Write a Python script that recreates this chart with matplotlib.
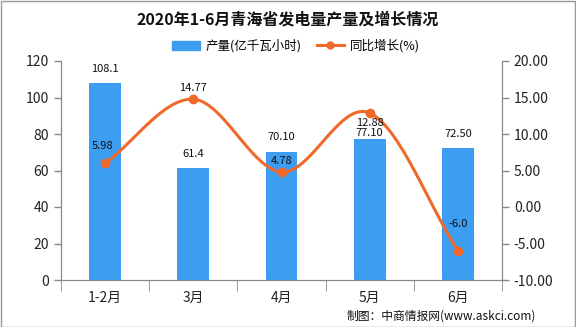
import matplotlib
matplotlib.use("Agg")
import matplotlib.pyplot as plt
import numpy as np
from matplotlib.patches import Rectangle, Patch
from matplotlib.lines import Line2D

plt.rcParams['font.family'] = ['Noto Sans CJK SC', 'DejaVu Sans']

categories = ["1-2月", "3月", "4月", "5月", "6月"]
output = [108.1, 61.4, 70.10, 77.10, 72.50]
output_labels = ["108.1", "61.4", "70.10", "77.10", "72.50"]
growth = [5.98, 14.77, 4.78, 12.88, -6.0]
growth_labels = ["5.98", "14.77", "4.78", "12.88", "-6.0"]
left_ticks = [0, 20, 40, 60, 80, 100, 120]
right_ticks = [-10, -5, 0, 5, 10, 15, 20]

bar_color = "#3d9df0"
line_color = "#f0692a"
axis_color = "#888888"

fig = plt.figure(figsize=(5.76, 3.27), dpi=100)
ax = fig.add_axes([61/576, 1-280/327, (502-61)/576, (280-61)/327])
ax2 = ax.twinx()

x = np.arange(len(categories))
ax.bar(x, output, width=0.36, color=bar_color, zorder=2)
ax.set_xlim(-0.5, len(categories)-0.5)
ax.set_ylim(0, 120)
ax.set_yticks(left_ticks)
ax.set_xticks(x)
ax.set_xticklabels(categories)
bar_off_px = [14, 14, 15, 6, 14]
for xi, v, lab, off in zip(x, output, output_labels, bar_off_px):
    ax.annotate(lab, (xi, v), xytext=(0, off*0.72), textcoords='offset points',
                ha='center', va='center', fontsize=8, color='#111111', zorder=5)

# smooth curve through the points (Catmull-Rom, drawing only)
def catmull(xs, ys, n=30):
    xs = np.asarray(xs, float); ys = np.asarray(ys, float)
    px = np.concatenate([[2*xs[0]-xs[1]], xs, [2*xs[-1]-xs[-2]]])
    py = np.concatenate([[2*ys[0]-ys[1]], ys, [2*ys[-1]-ys[-2]]])
    outx, outy = [], []
    for i in range(1, len(px)-2):
        t = np.linspace(0, 1, n)
        for arr, out in ((px, outx), (py, outy)):
            p0, p1, p2, p3 = arr[i-1], arr[i], arr[i+1], arr[i+2]
            out.extend(0.5*((2*p1) + (-p0+p2)*t + (2*p0-5*p1+4*p2-p3)*t**2 + (-p0+3*p1-3*p2+p3)*t**3))
    return np.array(outx), np.array(outy)

sx, sy = catmull(x, growth)
ax2.plot(sx, sy, color=line_color, lw=2.2, zorder=3)
ax2.plot(x, growth, 'o', color=line_color, ms=6, zorder=4)
ax2.set_ylim(-10, 20)
ax2.set_yticks(right_ticks)
ax2.set_yticklabels([f"{t:.2f}" for t in right_ticks])
line_off_px = [(-3, 17), (0, 11), (0, 11), (0, -10), (0, 27)]
for xi, v, lab, (dx, dy) in zip(x, growth, growth_labels, line_off_px):
    ax2.annotate(lab, (xi, v), xytext=(dx*0.72, dy*0.72), textcoords='offset points',
                 ha='center', va='center', fontsize=8, color='#111111', zorder=5)

for a in (ax, ax2):
    a.spines['top'].set_visible(False)
    a.spines['left'].set_color(axis_color)
    a.spines['right'].set_color(axis_color)
    a.spines['bottom'].set_color(axis_color)
    a.tick_params(colors='#222222', labelsize=10, length=5, width=1)
    a.tick_params(axis='both', color=axis_color)
ax.set_xticks(np.arange(-0.5, len(categories), 1), minor=True)
ax.tick_params(axis='x', which='major', length=0, pad=8, labelsize=10)
ax.tick_params(axis='x', which='minor', length=8, color=axis_color)

fig.text(288/576, 1-19/327, "2020年1-6月青海省发电量产量及增长情况", ha='center', va='center',
         fontsize=11.5, fontweight='bold', color='#111111')

handles = [Patch(color=bar_color, label="产量(亿千瓦小时)"),
           Line2D([0], [0], color=line_color, lw=2.2, marker='o', ms=5, label="同比增长(%)")]
fig.legend(handles=handles, loc='center', bbox_to_anchor=(296/576, 1-46/327), ncol=2,
           frameon=False, fontsize=9, handlelength=2.2, handleheight=0.8,
           columnspacing=1.2, handletextpad=0.45)

fig.text(1-40/576, 1-316/327, "制图：中商情报网(www.askci.com)", ha='right', va='center',
         fontsize=8.5, color='#111111')

fig.patches.append(Rectangle((0.5/576, 0.5/327), 1-1.5/576, 1-1.5/327, transform=fig.transFigure,
                             fill=False, edgecolor='#999999', lw=1))

fig.savefig("out.png", dpi=100)
